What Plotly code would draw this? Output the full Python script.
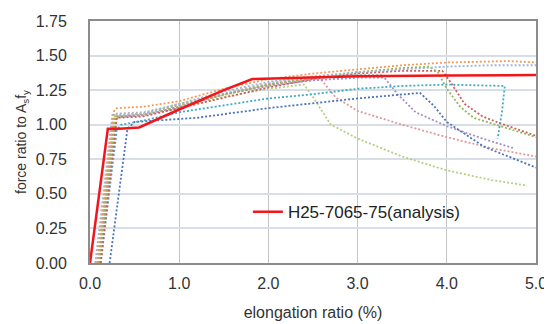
import plotly.graph_objects as go

# ---- data ----
analysis_x = [0.0, 0.2, 0.33, 0.55, 1.0, 1.5, 1.82, 2.5, 3.0, 4.0, 5.0]
analysis_y = [0.0, 0.97, 0.97, 0.98, 1.11, 1.25, 1.33, 1.34, 1.35, 1.355, 1.36]

orange_x = [0.08, 0.27, 0.3, 0.6, 1.0, 1.5, 2.0, 2.5, 3.0, 3.5, 4.0, 4.5, 4.7, 5.0]
orange_y = [0.0, 1.10, 1.12, 1.13, 1.17, 1.26, 1.33, 1.37, 1.40, 1.43, 1.45, 1.46, 1.46, 1.45]

steel_x = [0.06, 0.25, 0.6, 1.0, 1.5, 2.0, 2.5, 3.0, 3.5, 4.0, 4.5, 5.0]
steel_y = [0.0, 1.07, 1.08, 1.15, 1.24, 1.31, 1.35, 1.38, 1.40, 1.42, 1.43, 1.43]

green_x = [0.1, 0.28, 0.6, 1.0, 1.5, 2.0, 2.5, 3.0, 3.5, 3.8, 3.9, 4.0, 4.15, 4.3, 4.6, 5.0]
green_y = [0.0, 1.06, 1.08, 1.14, 1.22, 1.29, 1.34, 1.38, 1.41, 1.42, 1.38, 1.26, 1.13, 1.05, 0.99, 0.91]

reddot_x = [0.12, 0.3, 0.6, 1.0, 1.5, 2.0, 2.5, 3.0, 3.5, 3.95, 4.05, 4.2, 4.4, 4.6, 5.0]
reddot_y = [0.0, 1.05, 1.06, 1.12, 1.20, 1.27, 1.33, 1.37, 1.39, 1.39, 1.30, 1.15, 1.06, 1.01, 0.92]

cyan_x = [0.12, 0.3, 0.35, 0.6, 1.0, 1.5, 2.0, 2.5, 3.0, 3.5, 4.0, 4.65, 4.62, 4.57]
cyan_y = [0.0, 0.96, 1.0, 1.03, 1.09, 1.14, 1.19, 1.22, 1.26, 1.28, 1.29, 1.28, 1.10, 0.90]

blue_x = [0.22, 0.42, 0.5, 1.2, 2.0, 3.0, 3.7, 3.85, 4.0, 4.42, 5.0]
blue_y = [0.0, 0.97, 1.02, 1.05, 1.12, 1.19, 1.23, 1.14, 1.02, 0.84, 0.69]

purple_x = [0.1, 0.28, 0.6, 1.0, 1.5, 2.0, 2.5, 3.0, 3.3, 3.45, 3.65, 4.0, 4.4, 4.75]
purple_y = [0.0, 1.05, 1.07, 1.13, 1.22, 1.28, 1.32, 1.34, 1.34, 1.22, 1.09, 0.99, 0.90, 0.83]

pink_x = [0.1, 0.3, 0.6, 1.0, 1.5, 2.0, 2.5, 2.6, 2.75, 3.0, 3.5, 4.0, 4.5, 5.0]
pink_y = [0.0, 1.06, 1.07, 1.12, 1.22, 1.29, 1.33, 1.32, 1.20, 1.10, 1.00, 0.91, 0.83, 0.77]

lime_x = [0.08, 0.26, 0.6, 1.0, 1.5, 2.0, 2.4, 2.5, 2.7, 3.0, 3.5, 4.0, 4.5, 4.9]
lime_y = [0.0, 1.06, 1.07, 1.13, 1.20, 1.26, 1.29, 1.20, 1.00, 0.90, 0.77, 0.67, 0.60, 0.56]

gray_x = [0.09, 0.27, 0.6, 1.0, 1.5, 2.0, 2.5, 3.0, 3.3]
gray_y = [0.0, 1.08, 1.09, 1.15, 1.23, 1.30, 1.34, 1.36, 1.36]

x_ticks = [0, 1, 2, 3, 4, 5]
x_tick_labels = ["0.0", "1.0", "2.0", "3.0", "4.0", "5.0"]
y_ticks = [0, 0.25, 0.5, 0.75, 1.0, 1.25, 1.5, 1.75]
y_tick_labels = ["0.00", "0.25", "0.50", "0.75", "1.00", "1.25", "1.50", "1.75"]

tests = [
    (gray_x, gray_y, "#B8B8B8"),
    (lime_x, lime_y, "#B5D07F"),
    (pink_x, pink_y, "#E09A98"),
    (purple_x, purple_y, "#A391C4"),
    (blue_x, blue_y, "#4A74B8"),
    (cyan_x, cyan_y, "#42A9C4"),
    (reddot_x, reddot_y, "#C9605C"),
    (green_x, green_y, "#93B856"),
    (steel_x, steel_y, "#9DB5D8"),
    (orange_x, orange_y, "#F39A55"),
]

fig = go.Figure()
for xs, ys, c in tests:
    fig.add_trace(go.Scatter(x=xs, y=ys, mode="lines", showlegend=False,
                             line=dict(color=c, width=1.8, dash="2px,2px")))

fig.add_trace(go.Scatter(x=analysis_x, y=analysis_y, mode="lines",
                         name="H25-7065-75(analysis)",
                         line=dict(color="#F2161B", width=2.5)))

# The page body has an 8px margin, so the figure is sized to fit the window.
font_main = "Arial, Liberation Sans, sans-serif"
fig.update_layout(
    width=544, height=316,
    margin=dict(l=82, r=10, t=5, b=61),
    paper_bgcolor="white", plot_bgcolor="white",
    font=dict(family=font_main, size=16, color="#333333"),
    showlegend=True,
    legend=dict(x=0.354, y=0.21, xanchor="left", yanchor="middle",
                bgcolor="rgba(0,0,0,0)", font=dict(size=17, color="#222222"),
                itemwidth=30),
    xaxis=dict(range=[0, 5], tickvals=x_ticks, ticktext=x_tick_labels,
               showgrid=True, gridcolor="#C4C4C4", gridwidth=1,
               showline=True, linecolor="#8C8C8C", linewidth=2, mirror=True,
               ticks="", zeroline=False, ticklabelstandoff=5,
               ticklabeloverflow="allow",
               tickfont=dict(size=16, color="#333333"),
               title=dict(text="elongation ratio (%)", standoff=16,
                          font=dict(size=16, color="#333333"))),
    yaxis=dict(range=[0, 1.75], tickvals=y_ticks, ticktext=y_tick_labels,
               showgrid=True, gridcolor="#D8DEE8", gridwidth=1.5,
               showline=True, linecolor="#8C8C8C", linewidth=2, mirror=True,
               ticks="", zeroline=False, ticklabelstandoff=18,
               ticklabeloverflow="allow",
               tickfont=dict(size=16, color="#333333"),
               title=dict(text="force ratio to A<sub>s</sub>f<sub>y</sub>", standoff=6,
                          font=dict(size=14, color="#333333"))),
)

fig.write_html("out.html")
